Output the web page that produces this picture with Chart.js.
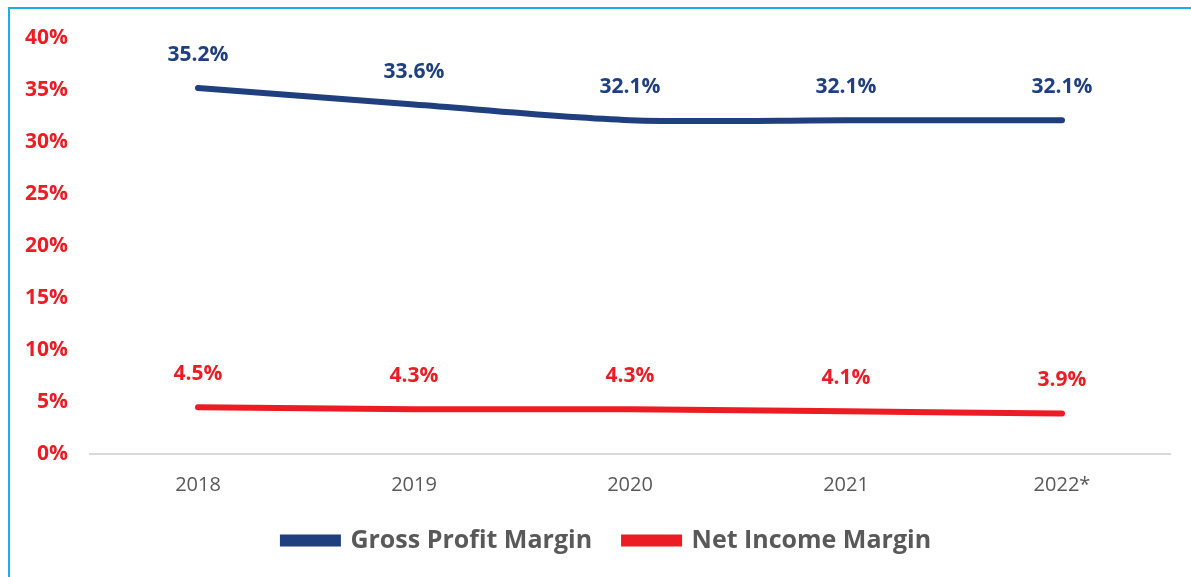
<!DOCTYPE html>
<html>
<head>
<meta charset="utf-8">
<script src="https://cdn.jsdelivr.net/npm/chart.js@4.4.1/dist/chart.umd.min.js"></script>
<style>
    html, body { margin: 0; padding: 0; background: #fff; overflow: hidden; }
    .frame {
        position: absolute; left: 8px; top: 7px;
        width: 1400px; height: 800px;
        border: 2px solid #1AAEEA;
    }
    .chart-box { position: absolute; left: 0; top: 0; width: 1191px; height: 577px; }
</style>
</head>
<body>
<div class="frame"></div>
<div class="chart-box"><canvas id="marginChart" width="1191" height="577"></canvas></div>
<script>
const years = ['2018', '2019', '2020', '2021', '2022*'];
const grossProfitMargin = [35.2, 33.6, 32.1, 32.1, 32.1];
const netIncomeMargin = [4.5, 4.3, 4.3, 4.1, 3.9];
const yTicks = [0, 5, 10, 15, 20, 25, 30, 35, 40];

const BLUE = '#1F3F7F';
const RED = '#ED1C24';
const GREY = '#595959';
const FONT = '"Open Sans", sans-serif';

// draws the value above each point
const valueLabels = {
    id: 'valueLabels',
    afterDatasetsDraw(chart) {
        const ctx = chart.ctx;
        ctx.save();
        ctx.font = 'bold 21px ' + FONT;
        ctx.textAlign = 'center';
        ctx.textBaseline = 'middle';
        chart.data.datasets.forEach((ds, i) => {
            const meta = chart.getDatasetMeta(i);
            meta.data.forEach((pt, j) => {
                ctx.fillStyle = ds.borderColor;
                ctx.fillText(ds.data[j].toFixed(1) + '%', pt.x, pt.y - 33);
            });
        });
        ctx.restore();
    }
};

const ctx = document.getElementById('marginChart').getContext('2d');
new Chart(ctx, {
    type: 'line',
    data: {
        labels: years,
        datasets: [
            {
                label: 'Gross Profit Margin',
                data: grossProfitMargin,
                borderColor: BLUE,
                backgroundColor: BLUE,
                borderWidth: 6,
                borderCapStyle: 'round',
                pointRadius: 0,
                tension: 0.3
            },
            {
                label: 'Net Income Margin',
                data: netIncomeMargin,
                borderColor: RED,
                backgroundColor: RED,
                borderWidth: 6,
                borderCapStyle: 'round',
                pointRadius: 0,
                tension: 0.3
            }
        ]
    },
    options: {
        responsive: false,
        animation: false,
        layout: { padding: { left: 24, right: 1, top: 38, bottom: 14 } },
        scales: {
            x: {
                offset: true,
                grid: { display: false, drawTicks: false },
                border: { display: true, color: '#D9D9D9', width: 2 },
                ticks: { color: GREY, font: { family: FONT, size: 20 }, padding: 19, maxRotation: 0 },
                afterFit: scale => { scale.height = 42; }
            },
            y: {
                min: 0,
                max: 40,
                afterBuildTicks: axis => { axis.ticks = yTicks.map(v => ({ value: v })); },
                afterFit: scale => { scale.width = 66; },
                grid: { display: false, drawTicks: false },
                border: { display: false },
                ticks: {
                    color: RED,
                    font: { family: FONT, size: 21, weight: 'bold' },
                    padding: 22,
                    callback: v => v + '%'
                }
            },
            // empty axis, only keeps the right margin
            yRight: {
                position: 'right',
                min: 0,
                max: 1,
                afterFit: scale => { scale.width = 20; },
                grid: { display: false, drawTicks: false },
                border: { display: false },
                ticks: { display: false }
            }
        },
        plugins: {
            tooltip: { enabled: false },
            legend: {
                position: 'bottom',
                labels: {
                    boxWidth: 55,
                    boxHeight: 6,
                    padding: 32,
                    color: GREY,
                    font: { family: FONT, size: 25, weight: 'bold' }
                }
            }
        }
    },
    plugins: [valueLabels]
});
</script>
</body>
</html>
